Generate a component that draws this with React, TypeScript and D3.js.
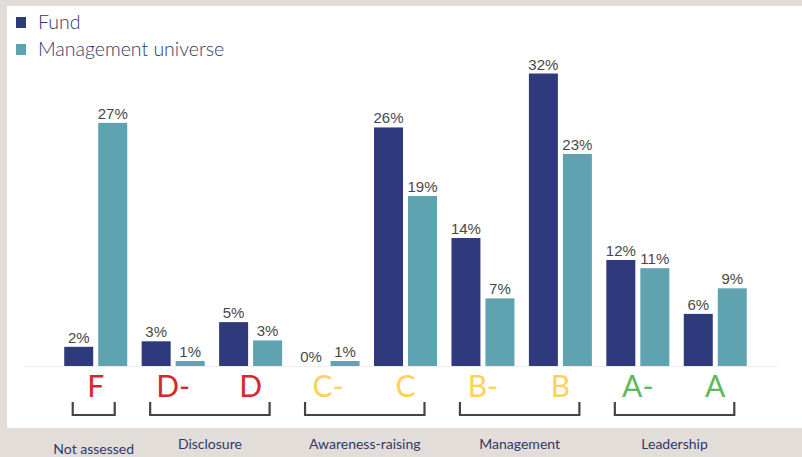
import * as d3 from 'd3';

const categories = ['F', 'D-', 'D', 'C-', 'C', 'B-', 'B', 'A-', 'A'];
const fund = [2.1, 2.7, 4.8, 0, 26.1, 14, 32, 11.6, 5.7];
const universe = [26.6, 0.55, 2.8, 0.55, 18.6, 7.4, 23.2, 10.7, 8.5];
const letterColors = ['#d7262d', '#d7262d', '#d7262d', '#fdd15a', '#fdd15a', '#fdd15a', '#fdd15a', '#5dba5c', '#5dba5c'];
const groups = [
  { label: 'Not assessed', from: 'F', to: 'F' },
  { label: 'Disclosure', from: 'D-', to: 'D' },
  { label: 'Awareness-raising', from: 'C-', to: 'C' },
  { label: 'Management', from: 'B-', to: 'B' },
  { label: 'Leadership', from: 'A-', to: 'A' },
];
const legend = [
  { name: 'Fund', color: '#2e3a7c' },
  { name: 'Management universe', color: '#5fa3b0' },
];

const W = 802;
const H = 457;
const baseY = 366;

export default function App() {
  const x = d3.scaleBand<string>().domain(categories).range([57, 754]).paddingInner(0).paddingOuter(0);
  const y = d3.scaleLinear().domain([0, 32]).range([baseY, 73.5]);
  const barW = 29;
  const gap = 5;
  const cx = (c: string) => (x(c) ?? 0) + x.bandwidth() / 2;
  const fmt = (v: number) => `${Math.round(v)}%`;

  const series = [
    { values: fund, color: legend[0].color, offset: -gap / 2 - barW },
    { values: universe, color: legend[1].color, offset: gap / 2 },
  ];

  return (
    <svg width={W} height={H} style={{ position: 'absolute', left: 0, top: 0 }}>
      <rect x={0} y={0} width={W} height={H} fill="#e2ddd9" />
      <rect x={7} y={6} width={W - 7} height={422} fill="#ffffff" />

      {legend.map((l, i) => (
        <g key={l.name} transform={`translate(16, ${17 + i * 27})`}>
          <rect width={10} height={11} fill={l.color} />
          <text x={22} y={12} fontFamily="Lato" fontWeight={300} fontSize={19.5} fill="#2e3a6b">{l.name}</text>
        </g>
      ))}

      <line x1={24} x2={777} y1={baseY + 0.5} y2={baseY + 0.5} stroke="#eeeeee" strokeWidth={1} />

      {series.map((s, si) =>
        categories.map((c, i) => {
          const v = s.values[i];
          const bx = cx(c) + s.offset;
          return (
            <g key={`${si}-${c}`}>
              <rect x={bx} y={y(v)} width={barW} height={baseY - y(v)} fill={s.color} />
              <text
                x={bx + barW / 2}
                y={y(v) - 4}
                textAnchor="middle"
                fontFamily="Liberation Sans, Arial"
                fontSize={15}
                fill="#484848"
              >
                {fmt(v)}
              </text>
            </g>
          );
        })
      )}

      {categories.map((c, i) => (
        <text key={c} x={cx(c)} y={397} textAnchor="middle" fontFamily="Lato" fontSize={30} fill={letterColors[i]}>
          {c}
        </text>
      ))}

      {groups.map((g, i) => {
        const x0 = cx(g.from) - 23;
        const x1 = cx(g.to) + 19;
        return (
          <g key={g.label}>
            <path d={`M${x0},402V415H${x1}V402`} fill="none" stroke="#444444" strokeWidth={2.2} />
            <text
              x={(x0 + x1) / 2}
              y={i === 0 ? 454 : 449}
              textAnchor="middle"
              fontFamily="Lato"
              fontSize={14}
              fill="#2e3a6b"
            >
              {g.label}
            </text>
          </g>
        );
      })}
    </svg>
  );
}
